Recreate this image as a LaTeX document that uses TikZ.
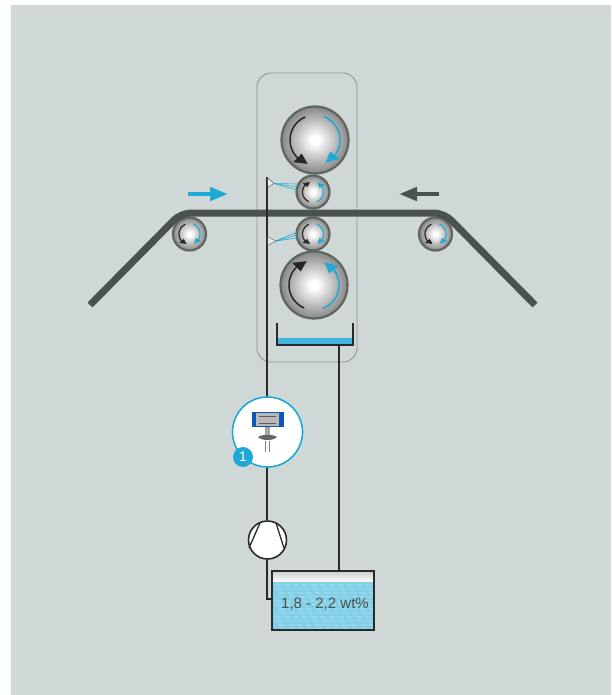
\documentclass[tikz,border=0pt]{standalone}
\usepackage{fontspec}
\setmainfont{Liberation Sans}
\usetikzlibrary{arrows.meta,shapes.geometric}
\definecolor{bgc}{HTML}{CFD8D6}
\definecolor{dk}{HTML}{4A524E}
\definecolor{blk}{HTML}{2A2A2C}
\definecolor{cy}{HTML}{1FA9D6}
\definecolor{water}{HTML}{6CC8E4}
\definecolor{rim}{HTML}{5E6660}
\pgfdeclareradialshading{rollershade}{\pgfpointorigin}{color(0bp)=(white); color(3bp)=(white); color(15bp)=(black!26); color(25bp)=(black!47); color(50bp)=(black!47)}
\tikzset{
 x=1pt,y=-1pt,
 roller/.style={circle,draw=rim,line width=2.2pt,inner sep=0pt,outer sep=0pt,shading=rollershade},
 pipe/.style={draw=blk,line width=2.6pt},
 web/.style={draw=dk,line width=7pt,line join=round},
 spray/.style={draw=cy,line width=.6pt},
 nozzle/.style={draw=black!50,line width=.6pt,fill=bgc!50!white}
}
% #1 colour, #2 cx, #3 cy, #4 r, #5 lw, #6 head length, #7 start angle, #8 tip angle
\newcommand{\rotarc}[8]{%
 \pgfmathsetmacro{\dirs}{(#8>#7)?1:-1}%
 \pgfmathsetmacro{\dang}{#6/#4*57.3}%
 \pgfmathsetmacro{\bang}{#8-\dirs*\dang}%
 \pgfmathsetmacro{\hw}{#6*.5}%
 \draw[#1,line width=#5,samples=24,smooth,domain={#7}:{\bang},variable=\a] plot ({#2+#4*cos(\a)},{#3-#4*sin(\a)});
 \fill[#1] ({#2+#4*cos(#8)},{#3-#4*sin(#8)}) -- ({#2+(#4+\hw)*cos(\bang)},{#3-(#4+\hw)*sin(\bang)}) -- ({#2+(#4-\hw)*cos(\bang)},{#3-(#4-\hw)*sin(\bang)}) -- cycle;
}
\newcommand{\rotpair}[6]{%
 \pgfmathsetmacro{\aone}{#6*113}\pgfmathsetmacro{\atwo}{#6*253}%
 \pgfmathsetmacro{\athree}{#6*70}\pgfmathsetmacro{\afour}{#6*(-65)}%
 \rotarc{black!85}{#1}{#2}{#3}{#4}{#5}{\aone}{\atwo}%
 \pgfmathsetmacro{\athree}{#6*70}\pgfmathsetmacro{\afour}{#6*(-65)}%
 \rotarc{cy}{#1}{#2}{#3}{#4}{#5}{\athree}{\afour}%
}
\begin{document}
\begin{tikzpicture}
\useasboundingbox (0,0) rectangle (611,695);
\fill[white] (0,0) rectangle (611,695);
\fill[bgc] (11,5) rectangle (611,695);
% housing
\node[rectangle,draw=black!30!bgc,line width=.9pt,rounded corners=14pt,minimum width=100pt,minimum height=289pt,inner sep=0pt] (housing) at (307,217.5) {};
% rollers
\node[roller,minimum size=67pt] (topbig) at (315,140) {};
\node[roller,minimum size=33pt] (topsmall) at (313,192) {};
\node[roller,minimum size=33pt] (botsmall) at (313,234) {};
\node[roller,minimum size=67pt] (botbig) at (314,285) {};
\node[roller,minimum size=33pt] (leftr) at (189.5,234) {};
\node[roller,minimum size=33pt] (rightr) at (435.5,234) {};
% web
\coordinate (w1) at (90,305);
\coordinate (w2) at (181,213);
\coordinate (w3) at (444,213);
\coordinate (w4) at (535,305);
\draw[web,rounded corners=10pt] (w1) -- (w2) -- (w3) -- (w4);
% rotation arrows
\rotpair{315}{140}{25}{1.5}{12}{1}
\rotpair{314}{285}{25}{1.5}{12}{-1}
\rotpair{313}{192}{10.5}{1.2}{6}{-1}
\rotpair{313}{234}{10.5}{1.2}{6}{1}
\rotpair{189.5}{234}{10.5}{1.2}{6}{1}
\rotpair{435.5}{234}{10.5}{1.2}{6}{1}
% direction arrows
\coordinate (da1) at (188,194);
\coordinate (da2) at (228,194);
\coordinate (db1) at (439,194);
\coordinate (db2) at (399,194);
\draw[draw=cy,line width=4.5pt,-{Triangle[length=18pt,width=13pt]}] (da1) -- (da2);
\draw[draw=dk,line width=4.5pt,-{Triangle[length=18pt,width=13pt]}] (db1) -- (db2);
% tray
\coordinate (tl) at (276.5,323);
\coordinate (tr) at (353,323);
\coordinate (traybot) at (339,345);
\fill[cy!85!white] (278,338) rectangle (352,344);
\draw[blk,line width=2pt] (tl) |- (tr |- traybot) -- (tr);
% tank
\node[rectangle,draw=none,minimum width=102pt,minimum height=59pt,inner sep=0pt] (tank) at (323,600.5) {};
\fill[top color=black!20,bottom color=white] (272,571) rectangle (374,582);
\fill[water!85!white] (272,582) rectangle (374,630);
\begin{scope}
\clip (273,583) rectangle (373,629);
\foreach \i in {0,...,11}{\foreach \j in {0,...,5}{
  \pgfmathsetmacro{\px}{275+\i*9+mod(\j,2)*4}
  \pgfmathsetmacro{\py}{585+\j*8}
  \draw[white,opacity=.3,line width=.8pt] (\px,\py) .. controls (\px+2,\py-3) and (\px+4,\py+3) .. (\px+6,\py);
  \draw[white,opacity=.25,line width=.8pt] (\px+1,\py+4) .. controls (\px+3,\py+1) and (\px+5,\py+7) .. (\px+7,\py+3);
}}
\end{scope}
\draw[blk,line width=1.6pt] (tank.north west) rectangle (tank.south east);
\node[font=\fontsize{15}{17}\selectfont,text=dk,inner sep=0pt] (lab) at (325,604) {1,8 - 2,2 wt\%};
\draw[pipe] (traybot) -- (traybot |- tank.north);
% sensor + pump
\coordinate (ptop) at (267,177);
\coordinate (pelbow) at (267,599);
\node[circle,draw=cy,line width=1.6pt,fill=white,minimum size=70pt,inner sep=0pt] (sensor) at (267.5,432) {};
\node[circle,draw=blk,line width=1.6pt,fill=white,minimum size=38pt,inner sep=0pt] (pump) at (267.5,540) {};
\draw[pipe] (ptop) -- (ptop |- sensor.north);
\draw[pipe] (ptop |- sensor.south) -- (ptop |- pump.north);
\draw[pipe] (ptop |- pump.south) -- (pelbow) -- (pelbow -| tank.west);
\draw[blk,line width=1.3pt] (260,523) -- (249,548);
\draw[blk,line width=1.3pt] (276,523) -- (284,548);
% instrument icon
\fill[blue!35!cy!80!black] (251.5,412) rectangle (284,427);
\fill[black!28] (256,413) rectangle (279,426);
\draw[black!65,line width=.9pt] (259,416) -- (276,416) (259,423) -- (276,423);
\fill[black!35] (265,427) rectangle (270,435);
\fill[black!60] (258,437) .. controls (262,434) and (273,434) .. (277,437) .. controls (273,441) and (262,441) .. (258,437) -- cycle;
\draw[black!50,line width=1pt] (265.5,441) -- (265.5,452) (269.5,441) -- (269.5,452);
\node[circle,fill=cy,inner sep=0pt,minimum size=20pt,text=white,font=\fontsize{14}{15}\selectfont] (badge) at (243,457) {1};
% nozzles
\coordinate (n1a) at (274,183.5);
\coordinate (n2a) at (276,241);
\fill[nozzle] (268,178) -- (n1a) -- (268,187) -- cycle;
\draw[nozzle] (268,178) -- (n1a) -- (268,187);
\fill[nozzle] (268,237) -- (n2a) -- (268,245) -- cycle;
\draw[nozzle] (268,237) -- (n2a) -- (268,245);
\foreach \t in {184,187,190}{\draw[spray] (n1a) -- (297,\t);}
\foreach \t in {232,235,238}{\draw[spray] (n2a) -- (297,\t);}
\end{tikzpicture}
\end{document}
